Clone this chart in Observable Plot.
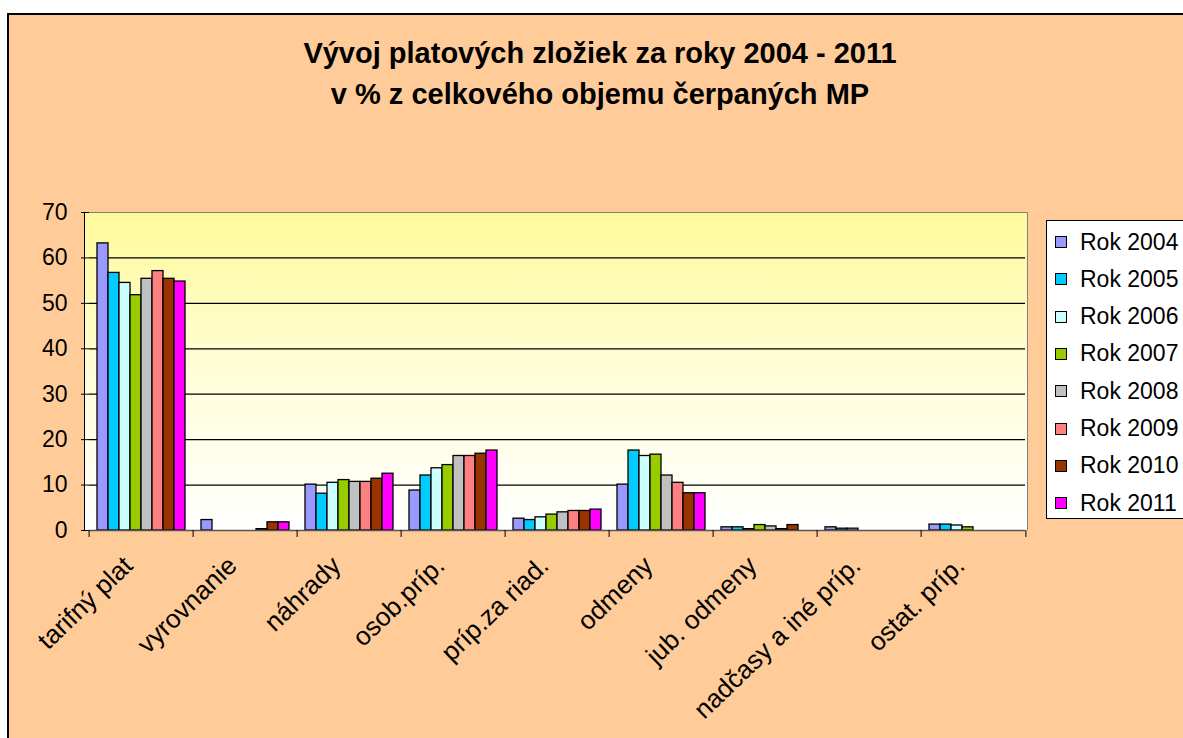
<!DOCTYPE html>
<html>
<head>
<meta charset="utf-8">
<script src="https://cdn.jsdelivr.net/npm/d3@7"></script>
<script src="https://cdn.jsdelivr.net/npm/@observablehq/plot@0.6"></script>
<style>
  html, body { margin: 0; padding: 0; background: #fff; overflow: hidden; }
  body { width: 1183px; height: 738px; position: relative; font-family: "Liberation Sans", Arial, sans-serif; }
  #frame { position: absolute; left: 7px; top: 13px; width: 1200px; height: 740px; background: #FFCC99; border: 2px solid #000; box-sizing: border-box; }
  #plotbg { position: absolute; left: 84px; top: 212px; width: 944px; height: 318px; box-sizing: border-box;
            background: linear-gradient(to bottom, #FFFA99 0%, #FFFDD8 50%, #FFFFFF 100%);
            border-top: 1px solid #808080; border-right: 1px solid #808080; border-left: 1px solid #000; }
  #title { position: absolute; left: 0; top: 33px; width: 1200px; text-align: center; font-weight: bold; font-size: 29px; line-height: 41px; color: #000; }
  #chart { position: absolute; left: 0; top: 0; }
  #legend { position: absolute; left: 1046px; top: 220px; width: 160px; height: 299px; background: #fff; border: 1px solid #000; box-sizing: border-box; }
  .li { position: absolute; left: 8px; height: 26px; display: flex; align-items: center; font-size: 23px; color: #000; white-space: nowrap; }
  .sw { width: 12px; height: 12px; border: 1px solid #000; box-sizing: border-box; margin-right: 13px; }
</style>
</head>
<body>
<div id="frame"></div>
<div id="plotbg"></div>
<div id="title">Vývoj platových zložiek za roky 2004 - 2011<br>v % z celkového objemu čerpaných MP</div>
<div id="chart"></div>
<div id="legend"></div>
<script>
const categories = ["tarifný plat", "vyrovnanie", "náhrady", "osob.príp.", "príp.za riad.", "odmeny", "jub. odmeny", "nadčasy a iné príp.", "ostat. príp."];
const years = ["Rok 2004", "Rok 2005", "Rok 2006", "Rok 2007", "Rok 2008", "Rok 2009", "Rok 2010", "Rok 2011"];
const colors = ["#9999FF", "#00CCFF", "#CCFFFF", "#99CC00", "#C0C0C0", "#FF8080", "#993300", "#FF00FF"];

const rok2004 = [63.2, 2.3, 10.1, 8.8, 2.6, 10.1, 0.7, 0.7, 1.3];
const rok2005 = [56.7, 0, 8.1, 12.1, 2.3, 17.6, 0.7, 0.4, 1.3];
const rok2006 = [54.5, 0, 10.5, 13.7, 2.9, 16.4, 0.3, 0.4, 1.1];
const rok2007 = [51.8, 0, 11.1, 14.4, 3.5, 16.7, 1.2, 0, 0.7];
const rok2008 = [55.4, 0, 10.7, 16.4, 4.0, 12.1, 0.9, 0, 0];
const rok2009 = [57.1, 0.3, 10.7, 16.4, 4.3, 10.5, 0.3, 0, 0];
const rok2010 = [55.4, 1.8, 11.4, 16.9, 4.3, 8.2, 1.2, 0, 0];
const rok2011 = [54.8, 1.8, 12.5, 17.6, 4.6, 8.2, 0, 0, 0];

const yTicks = [0, 10, 20, 30, 40, 50, 60, 70];
const gridTicks = [10, 20, 30, 40, 50, 60];

const series = [rok2004, rok2005, rok2006, rok2007, rok2008, rok2009, rok2010, rok2011];
const data = [];
series.forEach((vals, i) => vals.forEach((v, j) => {
  if (v > 0) data.push({cat: categories[j], year: years[i], value: v});
}));

const W = 1183, H = 738, mL = 85, mR = 155, mT = 212, mB = 208;
const step = (W - mL - mR) / categories.length;

const chart = Plot.plot({
  width: W, height: H,
  marginLeft: mL, marginRight: mR, marginTop: mT, marginBottom: mB,
  style: {background: "transparent", fontFamily: "Liberation Sans, Arial, sans-serif", fontSize: "23px", color: "#000", overflow: "visible"},
  fx: {domain: categories, padding: 0, label: null, axis: null},
  x: {domain: years, paddingInner: 0, paddingOuter: 0.68, axis: null},
  y: {domain: [0, 70], axis: null},
  color: {domain: years, range: colors},
  marks: [
    Plot.ruleY(gridTicks, {stroke: "#000", strokeWidth: 1.3}),
    Plot.barY(data, {fx: "cat", x: "year", y: "value", fill: "year", stroke: "#000", strokeWidth: 1.3}),
    Plot.ruleY([0], {stroke: "#555", strokeWidth: 1.3}),
    Plot.axisY({ticks: yTicks, tickSize: 8, tickPadding: 14, fontSize: 23, label: null, stroke: "#000"}),
    Plot.axisFx({anchor: "bottom", tickRotate: -44, tickSize: 0, tickPadding: 31, dx: -13, fontSize: 26, label: null}),
    Plot.axisFx({anchor: "bottom", tickSize: 7, dx: -step / 2, tickFormat: () => "", label: null, stroke: "#000"}),
    Plot.axisFx({anchor: "bottom", ticks: [categories[categories.length - 1]], tickSize: 7, dx: step / 2, tickFormat: () => "", label: null, stroke: "#000"})
  ]
});
document.getElementById("chart").appendChild(chart);

const legend = document.getElementById("legend");
years.forEach((y, i) => {
  const d = document.createElement("div");
  d.className = "li";
  d.style.top = (8 + i * 37.3) + "px";
  d.innerHTML = `<span class="sw" style="background:${colors[i]}"></span><span>${y}</span>`;
  legend.appendChild(d);
});
</script>
</body>
</html>
